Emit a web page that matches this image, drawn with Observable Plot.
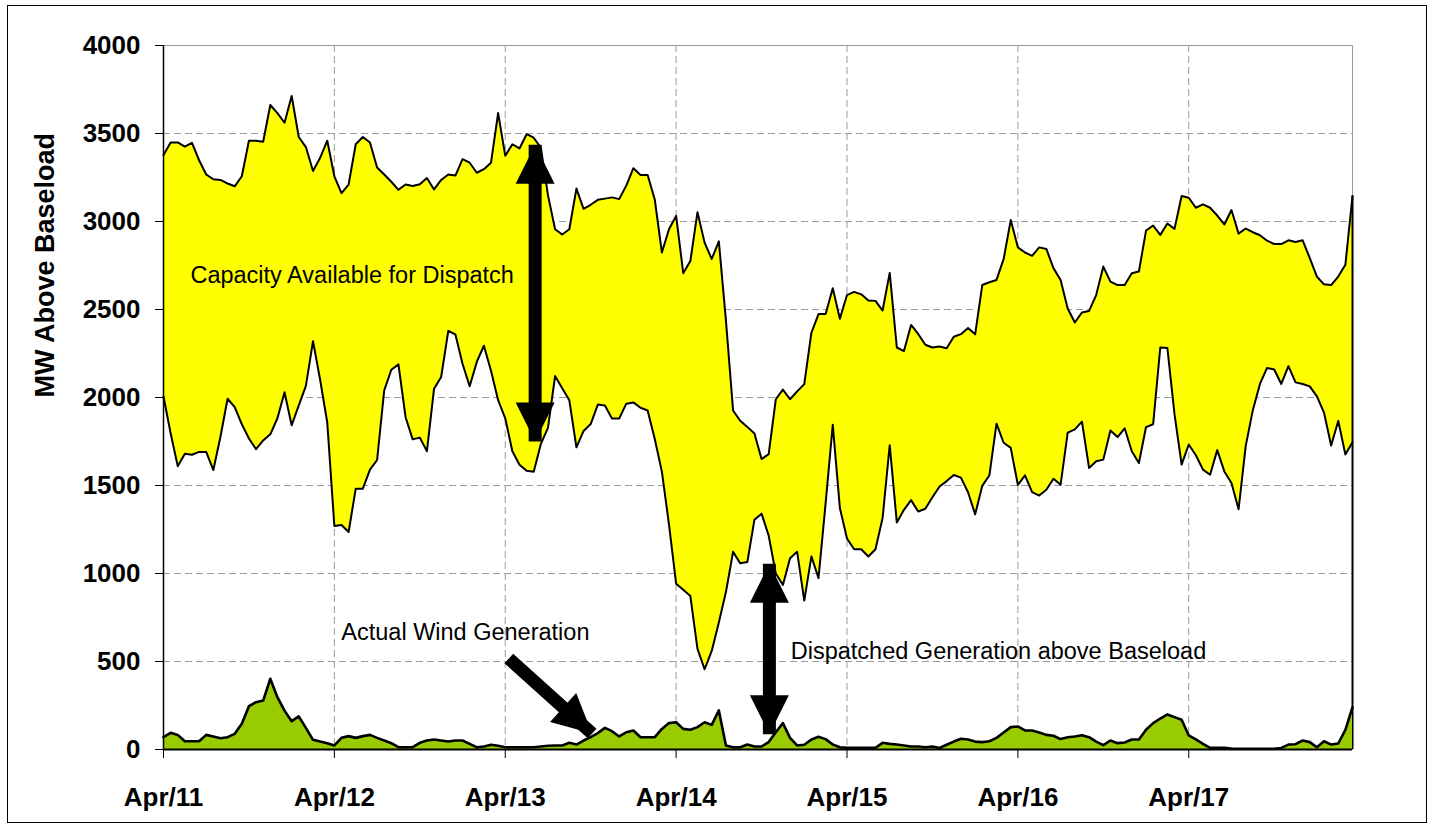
<!DOCTYPE html>
<html><head><meta charset="utf-8">
<script src="https://cdn.jsdelivr.net/npm/d3@7"></script>
<script src="https://cdn.jsdelivr.net/npm/@observablehq/plot@0.6"></script>
<style>
html,body{margin:0;padding:0;background:#fff;}
#wrap{position:relative;width:1435px;height:829px;overflow:hidden;background:#fff;}
#chart{position:absolute;left:0;top:0;}
#border{position:absolute;left:7px;top:5px;width:1418px;height:816px;border:1px solid #000;pointer-events:none;}
</style></head><body>
<div id="wrap"><div id="chart"></div><div id="border"></div></div>
<script>
// hourly values, Apr 11 00:00 .. Apr 17 23:00 (MW above baseload)
const upper = [3378,3449,3449,3425,3447,3348,3267,3240,3236,3216,3200,3257,3459,3459,3453,3662,3616,3561,3713,3480,3423,3287,3362,3459,
3257,3161,3210,3439,3480,3449,3307,3267,3226,3180,3210,3202,3212,3247,3182,3236,3267,3261,3354,3334,3277,3297,3334,3616,
3374,3439,3415,3496,3476,3419,3150,2956,2926,2956,3187,3072,3095,3123,3130,3137,3127,3204,3303,3264,3264,3125,2824,2956,
3032,2706,2775,3053,2880,2787,2887,2435,1926,1868,1833,1795,1650,1678,1990,2045,1990,2035,2076,2368,2474,2474,2621,2447,
2582,2600,2586,2551,2549,2494,2708,2284,2264,2412,2361,2300,2284,2290,2280,2345,2360,2395,2359,2639,2655,2668,2786,3008,
2853,2824,2805,2853,2844,2735,2668,2506,2426,2483,2492,2582,2744,2658,2639,2639,2706,2716,2948,2977,2924,2989,2958,3145,
3135,3078,3097,3078,3034,2983,3065,2931,2960,2939,2922,2891,2872,2872,2893,2884,2893,2792,2687,2643,2639,2687,2754,3145];
const lower = [2006,1797,1610,1681,1675,1691,1691,1588,1777,1993,1945,1848,1767,1706,1756,1791,1882,2030,1842,1955,2066,2320,2101,1858,
1270,1276,1236,1482,1482,1590,1645,2040,2158,2188,1888,1762,1772,1695,2050,2117,2379,2358,2192,2064,2202,2294,2152,1985,
1882,1695,1618,1584,1578,1736,1827,2122,2053,1984,1717,1810,1849,1960,1954,1880,1880,1965,1972,1942,1926,1764,1579,1278,
942,907,872,572,456,560,722,896,1123,1058,1065,1306,1340,1215,1000,935,1087,1123,846,1097,974,1400,1845,1372,
1199,1138,1138,1097,1138,1315,1729,1290,1362,1417,1352,1368,1433,1494,1525,1560,1545,1462,1336,1498,1558,1851,1743,1714,
1504,1558,1462,1443,1476,1538,1504,1800,1819,1863,1600,1638,1647,1813,1775,1825,1695,1628,1832,1848,2284,2281,1905,1619,
1733,1672,1590,1561,1701,1580,1514,1365,1724,1928,2077,2168,2159,2077,2178,2086,2077,2063,2006,1914,1727,1867,1676,1746];
const wind = [70,95,83,47,47,47,83,74,64,70,89,146,246,269,278,402,297,221,161,188,123,55,45,36,
23,66,76,66,76,83,66,51,36,13,13,13,38,51,57,51,45,51,51,32,13,17,27,21,
13,13,13,13,13,17,21,23,23,38,28,51,70,93,123,104,74,98,108,70,70,70,117,150,
155,117,112,127,155,140,222,23,13,13,28,17,17,42,98,150,66,23,27,57,72,59,28,13,
10,10,10,10,10,38,32,28,23,17,17,13,17,9,27,45,61,57,45,42,47,66,97,127,
131,108,108,97,83,78,59,70,74,81,70,45,25,51,36,40,57,57,112,150,176,199,184,169,
80,57,32,9,9,9,6,4,4,4,4,4,4,9,28,30,51,42,13,47,28,34,112,240];

const dayLabels = ["Apr/11","Apr/12","Apr/13","Apr/14","Apr/15","Apr/16","Apr/17"];
const dayTicks = [0,24,48,72,96,120,144];
const yTicks = [0,500,1000,1500,2000,2500,3000,3500,4000];
const yGrid = [500,1000,1500,2000,2500,3000,3500];

// annotation texts and arrows (hour index, MW)
const notesCentered = [
  {label:"Capacity Available for Dispatch", h:26.5, v:2693},
  {label:"Actual Wind Generation", h:42.4, v:665}
];
const notesLeft = [
  {label:"Dispatched Generation above Baseload", h:88.1, v:556}
];
const shafts = [
  {x1:52.2, y1:1750, x2:52.2, y2:3436, inS:36, inE:36},
  {x1:85.1, y1:87, x2:85.1, y2:1056, inS:36, inE:36},
  {x1:48.5, y1:517, x2:60.2, y2:91, inS:0, inE:36}
];
const heads = [
  {h:52.2, v:3436, rot:0}, {h:52.2, v:1750, rot:180},
  {h:85.1, v:1056, rot:0}, {h:85.1, v:87, rot:180},
  {h:60.2, v:91, rot:132}
];

const data = upper.map((u, i) => ({h:i, upper:u, lower:lower[i], wind:wind[i]}));
const last = data[data.length - 1];

// arrow head symbol with its tip at the origin, pointing up
const headSymbol = {draw(ctx, size) {
  const w = 2 * Math.sqrt(size / Math.PI);
  ctx.moveTo(0, 0); ctx.lineTo(w / 2, w); ctx.lineTo(-w / 2, w); ctx.closePath();
}};

const font = "'Liberation Sans', Arial, Helvetica, sans-serif";
const grey = "#9a9a9a";

const chart = Plot.plot({
  width: 1435, height: 829,
  marginLeft: 163, marginRight: 83, marginTop: 45, marginBottom: 80,
  style: {fontFamily: font, background: "white", color: "black"},
  x: {domain: [0, 167]},
  y: {domain: [0, 4000]},
  marks: [
    Plot.ruleY(yGrid, {stroke: grey, strokeDasharray: "7,4"}),
    Plot.ruleX(dayTicks.slice(1), {stroke: grey, strokeDasharray: "7,4"}),
    Plot.frame({stroke: grey}),
    Plot.areaY(data, {x: "h", y1: "lower", y2: "upper", fill: "#FFFF00"}),
    Plot.lineY(data, {x: "h", y: "upper", stroke: "black", strokeWidth: 2}),
    Plot.lineY(data, {x: "h", y: "lower", stroke: "black", strokeWidth: 2}),
    Plot.ruleX([last], {x: "h", y1: 0, y2: "upper", stroke: "black", strokeWidth: 2}),
    Plot.areaY(data, {x: "h", y: "wind", fill: "#99CC00"}),
    Plot.lineY(data, {x: "h", y: "wind", stroke: "black", strokeWidth: 2.6}),
    Plot.ruleX([0], {stroke: "black", strokeWidth: 1.5}),
    Plot.ruleY([0], {stroke: "black", strokeWidth: 2}),
    Plot.axisY({ticks: yTicks, tickFormat: d => String(d), tickSize: 8, tickPadding: 15,
      fontSize: 26, fontWeight: "bold", label: null}),
    Plot.axisX({ticks: dayTicks, tickFormat: d => dayLabels[dayTicks.indexOf(d)], tickSize: 9, tickPadding: 29,
      fontSize: 26, fontWeight: "bold", label: null}),
    Plot.text(["MW Above Baseload"], {frameAnchor: "left", dx: -118, rotate: -90,
      fontSize: 27, fontWeight: "bold"}),
    Plot.text(notesCentered, {x: "h", y: "v", text: "label", textAnchor: "middle", fontSize: 23.5}),
    Plot.text(notesLeft, {x: "h", y: "v", text: "label", textAnchor: "start", fontSize: 23.5}),
    Plot.arrow(shafts, {x1: "x1", y1: "y1", x2: "x2", y2: "y2", insetStart: d => d.inS, insetEnd: d => d.inE,
      headLength: 0, stroke: "black", strokeWidth: 13, strokeLinecap: "butt"}),
    Plot.dot(heads, {x: "h", y: "v", rotate: "rot", symbol: headSymbol, r: 19.5, fill: "black", stroke: "none"})
  ]
});
document.getElementById("chart").appendChild(chart);
</script></body></html>
